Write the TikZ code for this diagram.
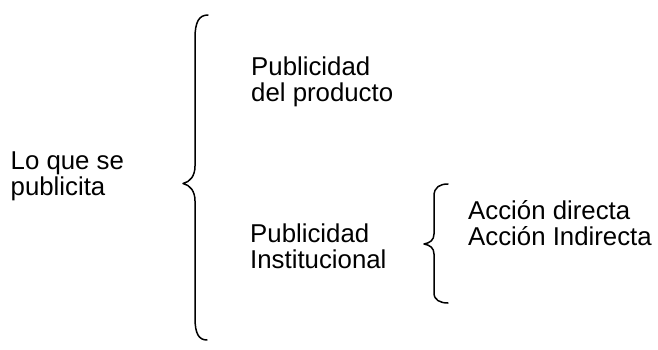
\documentclass[tikz,border=0pt]{standalone}
\usepackage{fontspec}
\setmainfont{Liberation Sans}
\begin{document}
\begin{tikzpicture}[x=1pt,y=-1pt,
  txt/.style={anchor=base west,inner sep=0pt,font=\fontsize{25.8}{26}\selectfont},
  bracestroke/.style={line width=1.5pt,line cap=round,line join=round}]
\useasboundingbox (0,0) rectangle (658,350);
% text
\node[txt] (lo1) at (10.5,169.5) {Lo que se};
\node[txt] (lo2) at (10.5,195) {publicita};
\node[txt] (pp1) at (251,76) {Publicidad};
\node[txt] (pp2) at (251,101.7) {del producto};
\node[txt] (pi1) at (250,242.7) {Publicidad};
\node[txt] (pi2) at (250,268.3) {Institucional};
\node[txt] (a1) at (468,219.3) {Acción directa};
\node[txt] (a2) at (468,245) {Acción Indirecta};
% big brace
\draw[bracestroke] (208,15) .. controls (199,15) and (195,22) .. (195,38)
  -- (195,166) .. controls (195,176) and (190,182) .. (183,183.5)
  .. controls (190,185) and (195,191) .. (195,201)
  -- (195,318) .. controls (195,334) and (199,340) .. (207,340);
% small brace
\draw[bracestroke] (448,184) .. controls (440,184) and (434,187) .. (434,196)
  -- (434,234) .. controls (434,240) and (430,243) .. (424,244)
  .. controls (430,245) and (434,248) .. (434,254)
  -- (434,293) .. controls (434,300) and (440,303) .. (448,303);
\end{tikzpicture}
\end{document}
